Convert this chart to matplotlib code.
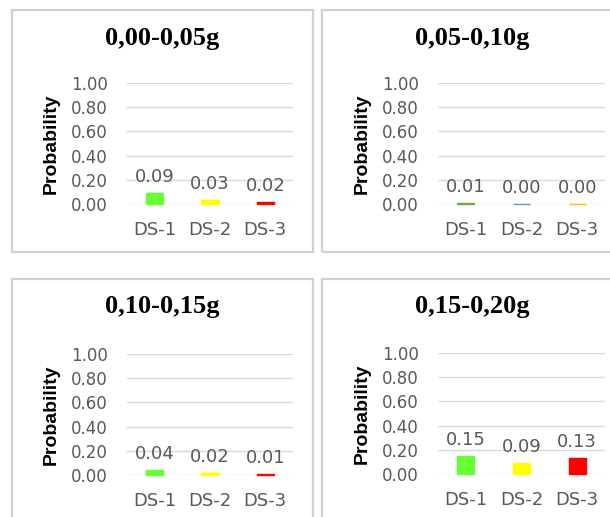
import matplotlib.pyplot as plt
from matplotlib.patches import Rectangle

# damage-state probabilities per PGA range
states = ["DS-1", "DS-2", "DS-3"]
titles = ["0,00-0,05g", "0,05-0,10g", "0,10-0,15g", "0,15-0,20g"]
prob_a = [0.09, 0.03, 0.02]
prob_b = [0.008, 0.004, 0.004]
prob_c = [0.04, 0.02, 0.01]
prob_d = [0.15, 0.09, 0.13]
yticks = [0.0, 0.2, 0.4, 0.6, 0.8, 1.0]

bright = ["#66FF33", "#FFFF00", "#FF0000"]
office = ["#70AD47", "#5B9BD5", "#FFC000"]

W, H = 610, 517
fig = plt.figure(figsize=(W / 100, H / 100), dpi=100)
fig.patch.set_facecolor("white")

# panel frames (pixel boxes: left, top, right, bottom)
frames = [(12, 10, 313, 252), (322, 10, 612, 252),
          (12, 279, 313, 520), (322, 279, 612, 520)]
# plot areas (left, top, right, bottom)
areas = [(127, 83, 293, 204), (438, 83, 605, 204),
         (127, 354, 293, 475), (438, 353, 605, 474)]

panels = [(prob_a, bright), (prob_b, office), (prob_c, bright), (prob_d, bright)]

for i, (vals, cols) in enumerate(panels):
    fl, ft, fr, fb = frames[i]
    fig.patches.append(Rectangle((fl / W, 1 - fb / H), (fr - fl) / W, (fb - ft) / H,
                                 transform=fig.transFigure, fill=False,
                                 edgecolor="#D0D0D0", linewidth=1.6))
    fig.text((fl + 301 / 2) / W, 1 - (ft + 28) / H, titles[i],
             family="Liberation Serif", fontweight="bold", fontsize=19,
             ha="center", va="center")

    l, t, r, b = areas[i]
    ax = fig.add_axes([l / W, 1 - b / H, (r - l) / W, (b - t) / H])
    x = range(len(states))
    bars = ax.bar(x, vals, width=0.31, color=cols, edgecolor=cols,
                  linewidth=1.0, zorder=3)
    for rect, v in zip(bars, vals):
        rect.set_clip_on(False)
        ax.annotate(f"{v:.2f}", (rect.get_x() + rect.get_width() / 2, v),
                    xytext=(0, 5), textcoords="offset points",
                    ha="center", va="bottom", fontsize=13, color="#595959")
    ax.set_ylim(0, 1.0)
    ax.set_xlim(-0.5, 2.5)
    ax.set_yticks(yticks)
    ax.set_yticklabels([f"{v:.2f}" for v in yticks])
    ax.set_xticks(list(x))
    ax.set_xticklabels(states)
    ax.tick_params(axis="y", length=0, pad=14, labelsize=12, labelcolor="#595959")
    ax.tick_params(axis="x", length=0, pad=12, labelsize=13, labelcolor="#595959")
    ax.grid(axis="y", color="#D9D9D9", linewidth=1, zorder=0)
    ax.set_axisbelow(True)
    for s in ax.spines.values():
        s.set_visible(False)
    ax.set_ylabel("Probability", family="Liberation Sans",
                  fontweight="bold", fontsize=14, labelpad=8)

fig.savefig("out.png", dpi=100)
